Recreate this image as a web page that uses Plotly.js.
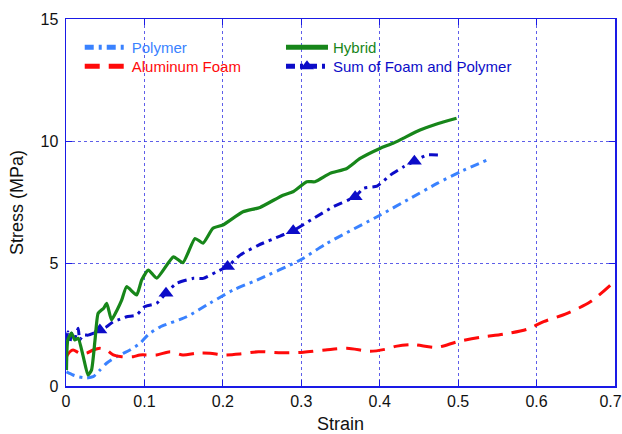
<!DOCTYPE html>
<html><head><meta charset="utf-8">
<script src="https://cdn.plot.ly/plotly-3.0.1.min.js"></script>
<style>html,body{margin:0;padding:0;background:#fff}#chart{width:622px;height:434px}</style>
</head><body><div id="chart"></div>
<script>
// ---- data ----
const polymerX = [0.0006,0.009,0.0155,0.026,0.0346,0.0432,0.0517,0.0645,0.0815,0.0943,0.1049,0.1198,0.1539,0.1837,0.213,0.2433,0.2986,0.3327,0.4008,0.439,0.4732,0.503,0.537];
const polymerY = [0.58,0.45,0.38,0.33,0.38,0.65,0.93,1.2,1.47,1.74,2.1,2.41,2.83,3.39,3.92,4.33,5.15,5.83,6.99,7.67,8.28,8.76,9.24];

const foamX = [0.0006,0.005,0.009,0.0177,0.026,0.0346,0.0432,0.0517,0.0602,0.0709,0.0857,0.0943,0.1156,0.133,0.149,0.1665,0.1837,0.2003,0.2219,0.2453,0.2752,0.3028,0.3305,0.3582,0.388,0.407,0.422,0.443,0.473,0.499,0.5285,0.558,0.588,0.609,0.639,0.669,0.699];
const foamY = [1.2,1.4,1.47,1.34,1.34,1.47,1.54,1.47,1.27,1.2,1.2,1.27,1.27,1.4,1.27,1.34,1.34,1.27,1.31,1.4,1.36,1.38,1.47,1.54,1.42,1.5,1.63,1.69,1.58,1.81,1.99,2.12,2.32,2.63,2.97,3.45,4.26];

const hybridX = [0.0006,0.0023,0.007,0.0112,0.0155,0.022,0.028,0.0325,0.037,0.041,0.048,0.052,0.058,0.065,0.071,0.0773,0.09,0.0965,0.105,0.1157,0.137,0.149,0.1645,0.1747,0.1874,0.2,0.2257,0.2474,0.2767,0.2894,0.307,0.3175,0.3366,0.358,0.375,0.4003,0.4169,0.4297,0.4514,0.4727,0.498];
const hybridY = [0.65,1.88,2.16,1.88,1.95,1.2,0.45,0.65,1.88,2.97,3.18,3.38,2.7,3.1,3.51,4.06,3.72,4.33,4.74,4.41,5.28,5.04,6.03,5.84,6.45,6.58,7.12,7.3,7.8,7.94,8.35,8.35,8.69,8.89,9.3,9.71,9.92,10.12,10.46,10.71,10.94];

const sumX = [0.0006,0.0023,0.0049,0.007,0.0112,0.0155,0.0176,0.0218,0.0282,0.0346,0.0432,0.0517,0.0602,0.0665,0.0773,0.09,0.1006,0.1156,0.1275,0.1411,0.1623,0.1751,0.1922,0.206,0.222,0.245,0.273,0.2897,0.3156,0.3411,0.3687,0.3794,0.3966,0.4135,0.4305,0.4442,0.4604,0.4774];
const sumY = [1.88,2.22,1.76,2.16,1.96,2.36,1.88,2.08,2.08,2.15,2.29,2.42,2.63,2.7,2.83,2.9,3.25,3.38,3.79,4.2,4.4,4.4,4.67,4.88,5.35,5.75,6.13,6.35,6.85,7.33,7.74,8.08,8.17,8.62,8.96,9.19,9.44,9.44];
const sumMarkerX = [0.0432,0.1275,0.206,0.2897,0.3687,0.4442];

const xTickVals = [0,0.1,0.2,0.3,0.4,0.5,0.6,0.7];
const xTickText = ['0','0.1','0.2','0.3','0.4','0.5','0.6','0.7'];
const yTickVals = [0,5,10,15];
const yTickText = ['0','5','10','15'];
const xTitle = 'Strain';
const yTitle = 'Stress (MPa)';

// ---- styles ----
const FONT = 'Liberation Sans, Arial, sans-serif';
const cPoly = '#3a82ff', cFoam = '#ff0a0a', cHyb = '#17861a', cSum = '#0c0cc8';
const sumSizes = sumX.map(x => sumMarkerX.includes(x) ? 13 : 0);
// last x label sits at the page edge in the reference; pad it so it shifts left like there
const xTickShown = xTickText.map((t, i) => i === xTickText.length - 1 ? t + '\u00a0\u00a0' : t);

const traces = [
  {x: polymerX, y: polymerY, mode: 'lines', name: '<span style="color:'+cPoly+'">Polymer</span>', legend: 'legend',
   line: {color: cPoly, width: 3, dash: '9px,5px,3px,5px', shape: 'spline', smoothing: 0.6}},
  {x: foamX, y: foamY, mode: 'lines', name: '<span style="color:'+cFoam+'">Aluminum Foam</span>', legend: 'legend3',
   line: {color: cFoam, width: 3, dash: '15px,9px', shape: 'spline', smoothing: 0.8}},
  {x: sumX, y: sumY, mode: 'lines+markers', name: '<span style="color:'+cSum+'">Sum of Foam and Polymer</span>', legend: 'legend4',
   line: {color: cSum, width: 3, dash: '9px,5px,3px,5px', shape: 'spline', smoothing: 0.5},
   marker: {symbol: 'triangle-up', size: sumSizes, color: cSum, opacity: 1, line: {width: 0}}},
  {x: hybridX, y: hybridY, mode: 'lines', name: '<span style="color:'+cHyb+'">Hybrid</span>', legend: 'legend2',
   line: {color: cHyb, width: 3.2, shape: 'spline', smoothing: 0.5}}
];

const axisCommon = {
  showline: true, linecolor: '#1a1ae6', linewidth: 1.5, mirror: 'allticks',
  ticks: 'inside', ticklen: 6, tickcolor: '#1a1ae6', tickwidth: 1,
  showgrid: true, gridcolor: 'rgba(40,40,225,0.75)', griddash: 'dot', gridwidth: 1,
  zeroline: false, ticklabeloverflow: 'allow',
  tickfont: {family: FONT, size: 16, color: '#111'}
};

const legendCommon = {
  orientation: 'v', xanchor: 'left', yanchor: 'top',
  bgcolor: 'rgba(0,0,0,0)', itemwidth: 42, tracegroupgap: 0, itemsizing: 'constant',
  font: {family: FONT, size: 15}
};
const col1 = 0.025, col2 = 0.3916, row1 = 0.967, row2 = 0.9155;

const layout = {
  width: 622, height: 434,
  margin: {l: 66, r: 7, t: 19, b: 48},
  paper_bgcolor: '#fff', plot_bgcolor: '#fff',
  font: {family: FONT, color: '#111'},
  showlegend: true,
  legend:  Object.assign({}, legendCommon, {x: col1, y: row1}),
  legend2: Object.assign({}, legendCommon, {x: col2, y: row1}),
  legend3: Object.assign({}, legendCommon, {x: col1, y: row2}),
  legend4: Object.assign({}, legendCommon, {x: col2, y: row2}),
  xaxis: Object.assign({}, axisCommon, {range: [0, 0.7], tickvals: xTickVals, ticktext: xTickShown,
           title: {text: xTitle, font: {family: FONT, size: 18, color: '#111'}, standoff: 9}}),
  yaxis: Object.assign({}, axisCommon, {range: [0, 15], tickvals: yTickVals, ticktext: yTickText,
           ticklabelstandoff: 3}),
  annotations: [{text: yTitle, textangle: -90, xref: 'paper', yref: 'paper', x: -0.09, y: 0.5,
                 xanchor: 'center', yanchor: 'middle', showarrow: false,
                 font: {family: FONT, size: 18, color: '#111'}}]
};

Plotly.newPlot('chart', traces, layout, {displayModeBar: false, staticPlot: true});
</script></body></html>
